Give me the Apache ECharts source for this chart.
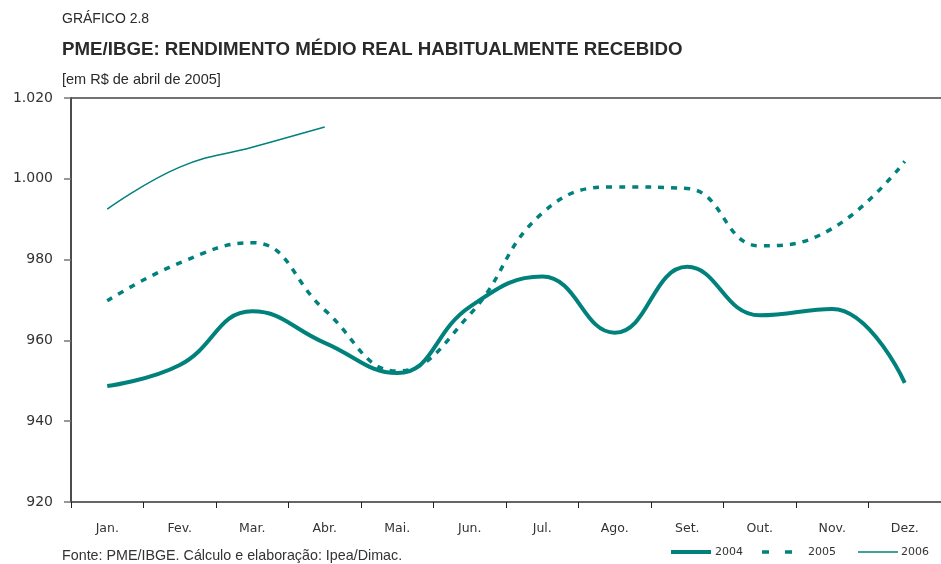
<!DOCTYPE html>
<html>
<head>
<meta charset="utf-8">
<script src="https://cdn.jsdelivr.net/npm/echarts@6/dist/echarts.min.js"></script>
<style>
html,body{margin:0;padding:0;background:#fff;}
#c{width:941px;height:564px;}
</style>
</head>
<body>
<div id="c"></div>
<script>
const months = ['Jan.','Fev.','Mar.','Abr.','Mai.','Jun.','Jul.','Ago.','Set.','Out.','Nov.','Dez.'];
const s2004 = [948.7, 953.9, 967.2, 959.4, 951.9, 968.3, 975.8, 961.9, 978.2, 966.2, 967.8, 949.5];
const s2005 = [969.8, 979.2, 984.2, 967.5, 952.4, 966.4, 991.5, 998.0, 997.6, 983.4, 987.7, 1004.3];
const s2006 = [992.5, 1002.9, 1007.8, 1012.8];
const seriesNames = ['2004', '2005', '2006'];

const teal = '#00817c';
const txt = '#2a2a2a';
const chart = echarts.init(document.getElementById('c'), null, {renderer:'canvas'});
const fmt = v => v >= 1000 ? Math.floor(v/1000) + '.' + String(v % 1000).padStart(3,'0') : String(v);
const sans = 'Liberation Sans, Arial, sans-serif';

chart.setOption({
  animation: false,
  backgroundColor: '#fff',
  title: [
    {text: 'GRÁFICO 2.8', left: 62, top: 12, padding: 0, textStyle: {fontFamily: sans, fontWeight: 'normal', fontSize: 14, color: txt}},
    {text: 'PME/IBGE: RENDIMENTO MÉDIO REAL HABITUALMENTE RECEBIDO', left: 62, top: 40, padding: 0, textStyle: {fontFamily: sans, fontWeight: 'bold', fontSize: 18.7, color: txt}},
    {text: '[em R$ de abril de 2005]', left: 62, top: 72, padding: 0, textStyle: {fontFamily: sans, fontWeight: 'normal', fontSize: 14.5, color: txt}},
    {text: 'Fonte: PME/IBGE. Cálculo e elaboração: Ipea/Dimac.', left: 62, top: 549, padding: 0, textStyle: {fontFamily: sans, fontWeight: 'normal', fontSize: 14.3, color: '#333'}}
  ],
  graphic: [
    {type: 'line', shape: {x1: 671, y1: 552, x2: 711, y2: 552}, style: {stroke: teal, lineWidth: 4}},
    {type: 'text', left: 715, top: 547, style: {text: seriesNames[0], font: '11px DejaVu Sans', fill: '#333'}},
    {type: 'line', shape: {x1: 762, y1: 552, x2: 769, y2: 552}, style: {stroke: teal, lineWidth: 3.5}},
    {type: 'line', shape: {x1: 785, y1: 552, x2: 792, y2: 552}, style: {stroke: teal, lineWidth: 3.5}},
    {type: 'text', left: 808, top: 547, style: {text: seriesNames[1], font: '11px DejaVu Sans', fill: '#333'}},
    {type: 'line', shape: {x1: 858, y1: 552, x2: 898, y2: 552}, style: {stroke: teal, lineWidth: 1.5}},
    {type: 'text', left: 901, top: 547, style: {text: seriesNames[2], font: '11px DejaVu Sans', fill: '#333'}}
  ],
  grid: {left: 71, right: 0, top: 98, bottom: 62, containLabel: false},
  xAxis: [{
    type: 'category', data: months, boundaryGap: true, position: 'bottom',
    axisLine: {lineStyle: {color: '#333', width: 1.5}},
    axisTick: {show: true, length: 6, lineStyle: {color: '#222'}},
    axisLabel: {fontFamily: 'DejaVu Sans', fontSize: 12.5, color: '#333', margin: 20}
  }, {
    type: 'category', data: months, boundaryGap: true, position: 'top',
    axisLine: {lineStyle: {color: '#444', width: 1.5}},
    axisTick: {show: false}, axisLabel: {show: false}
  }],
  yAxis: {
    type: 'value', min: 920, max: 1020, interval: 20,
    axisLine: {show: true, lineStyle: {color: '#111', width: 1.5}},
    axisTick: {show: true, length: 7, lineStyle: {color: '#777', width: 1.5}},
    splitLine: {show: false},
    axisLabel: {fontFamily: 'DejaVu Sans', fontSize: 14, color: '#333', margin: 18, formatter: fmt}
  },
  series: [
    {name: seriesNames[0], type: 'line', data: s2004, smooth: 0.45, symbol: 'none', color: teal,
     lineStyle: {width: 4, color: teal}},
    {name: seriesNames[1], type: 'line', data: s2005, smooth: 0.45, symbol: 'none', color: teal,
     lineStyle: {width: 3.5, color: teal, type: [6, 7]}},
    {name: seriesNames[2], type: 'line', data: s2006, smooth: 0.45, symbol: 'none', color: teal,
     lineStyle: {width: 1.5, color: teal}}
  ]
});
</script>
</body>
</html>
